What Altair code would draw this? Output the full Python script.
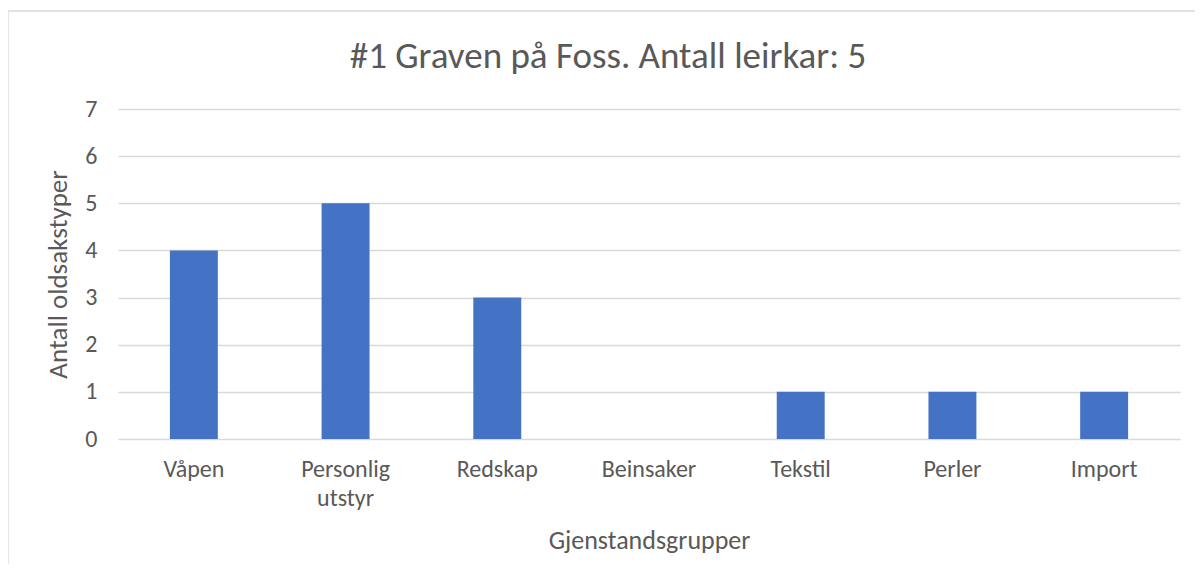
import altair as alt
import pandas as pd

categories = ["Våpen", "Personlig utstyr", "Redskap", "Beinsaker", "Tekstil", "Perler", "Import"]
values = [4, 5, 3, 0, 1, 1, 1]
y_ticks = [0, 1, 2, 3, 4, 5, 6, 7]
title_text = ["#1 Graven på Foss. Antall leirkar: 5"]

df = pd.DataFrame({"Gjenstandsgruppe": categories, "Antall": values})

W, H = 1062, 330
PL, PT = 110, 101
FONT = "Carlito, Lato, sans-serif"
GREY = "#595959"

bars = alt.Chart(df).mark_bar(color="#4472C4").encode(
    x=alt.X(
        "Gjenstandsgruppe:N",
        sort=categories,
        scale=alt.Scale(paddingInner=0.684, paddingOuter=0.342),
        axis=alt.Axis(
            title="Gjenstandsgrupper",
            titleFontSize=26,
            labelAngle=0,
            labelExpr="split(datum.label, ' ')",
            labelLineHeight=29,
            labelPadding=18,
            titlePadding=17,
            ticks=False,
            domain=False,
            grid=False,
        ),
    ),
    y=alt.Y(
        "Antall:Q",
        scale=alt.Scale(domain=[0, 7], nice=False),
        axis=alt.Axis(
            values=y_ticks,
            title="Antall oldsakstyper",
            titleFontSize=27,
            labelPadding=21,
            titlePadding=12,
            ticks=False,
            domain=False,
            grid=True,
            gridColor="#D9D9D9",
            gridWidth=1.3,
        ),
    ),
)

frame = alt.Chart(pd.DataFrame({"f": [0]})).mark_rect(
    fill=None, stroke="#D9D9D9", strokeWidth=1.3
).encode(
    x=alt.value(-PL),
    x2=alt.value(W + 200),
    y=alt.value(-(PT - 3)),
    y2=alt.value(H + 300),
)

title = alt.Chart(pd.DataFrame({"t": title_text})).mark_text(
    font=FONT, fontSize=37, color=GREY, align="center", baseline="alphabetic"
).encode(
    text="t:N",
    x=alt.value(608 - 8 - PL),
    y=alt.value(68 - 8 - PT),
)

chart = alt.layer(frame, bars, title).properties(
    width=W,
    height=H,
    autosize=alt.AutoSizeParams(type="none"),
    padding={"left": PL, "top": PT, "right": 15, "bottom": 125},
).configure_axis(
    labelFont=FONT,
    titleFont=FONT,
    labelFontSize=24,
    labelColor=GREY,
    titleColor=GREY,
    titleFontWeight="normal",
).configure_view(stroke=None)

chart.save("out.html", embed_options={"renderer": "svg", "actions": False})
